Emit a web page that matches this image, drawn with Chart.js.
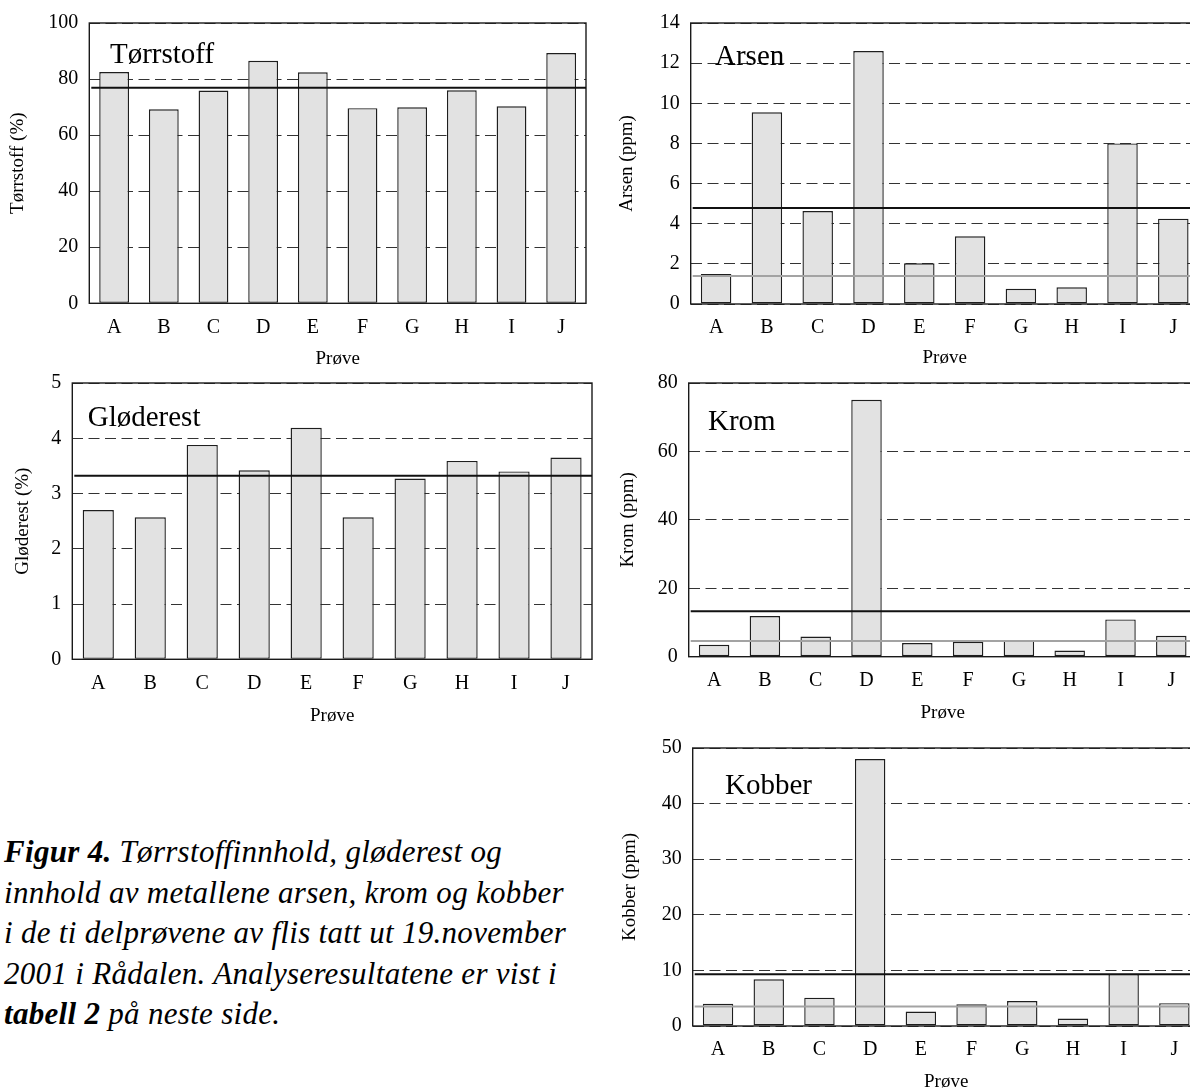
<!DOCTYPE html>
<html lang="no">
<head>
<meta charset="utf-8">
<title>Figur 4</title>
<script src="https://cdn.jsdelivr.net/npm/chart.js@4.4.0/dist/chart.umd.min.js"></script>
<style>
    html, body {
        margin: 0;
        padding: 0;
        background: #fff;
        width: 1190px;
        height: 1090px;
        overflow: hidden;
        position: relative;
    }
    .panel { position: absolute; }
    .caption {
        position: absolute;
        left: 4px;
        top: 832px;
        font-family: 'Liberation Serif', 'Times New Roman', serif;
        font-style: italic;
        font-size: 31px;
        line-height: 40.5px;
        letter-spacing: 0.3px;
        white-space: nowrap;
        color: #000;
    }
</style>
</head>
<body>

<div class="panel" style="left:0;top:0;width:600px;height:375px"><canvas id="torrstoffChart"></canvas></div>
<div class="panel" style="left:600px;top:0;width:610px;height:375px"><canvas id="arsenChart"></canvas></div>
<div class="panel" style="left:0;top:360px;width:600px;height:375px"><canvas id="glodeChart"></canvas></div>
<div class="panel" style="left:600px;top:360px;width:610px;height:375px"><canvas id="kromChart"></canvas></div>
<div class="panel" style="left:600px;top:725px;width:610px;height:375px"><canvas id="kobberChart"></canvas></div>

<div class="caption"><b>Figur 4.</b> Tørrstoffinnhold, gløderest og<br>innhold av metallene arsen, krom og kobber<br>i de ti delprøvene av flis tatt ut 19.november<br>2001 i Rådalen. Analyseresultatene er vist i<br><b>tabell 2</b> på neste side.</div>

<script>
// delprøver
const prover = ['A', 'B', 'C', 'D', 'E', 'F', 'G', 'H', 'I', 'J'];

// måleverdier lest av figuren
const torrstoff = [82.5, 69.2, 75.9, 86.5, 82.4, 69.6, 69.9, 76.0, 70.3, 89.3];
const glodrest = [2.70, 2.57, 3.88, 3.42, 4.19, 2.57, 3.27, 3.59, 3.40, 3.65];
const arsen = [1.50, 9.55, 4.63, 12.6, 2.03, 3.37, 0.76, 0.83, 8.0, 4.25];
const krom = [3.5, 11.9, 5.9, 75.1, 4.0, 4.35, 4.9, 1.8, 10.9, 6.1];
const kobber = [4.0, 8.4, 5.1, 48.0, 2.6, 3.9, 4.5, 1.35, 9.4, 4.1];

// horisontale linjer (snitt, bakgrunn)
const torrstoffLinjer = [76.9];
const glodrestLinjer = [3.32];
const arsenLinjer = [4.78, 1.39];
const kromLinjer = [13.3, 4.6];
const kobberLinjer = [9.3, 3.5];

// y-akse ticks
const torrstoffTicks = [0, 20, 40, 60, 80, 100];
const glodrestTicks = [0, 1, 2, 3, 4, 5];
const arsenTicks = [0, 2, 4, 6, 8, 10, 12, 14];
const kromTicks = [0, 20, 40, 60, 80];
const kobberTicks = [0, 10, 20, 30, 40, 50];

const serif = "'Liberation Serif', 'Times New Roman', serif";
const linjeFarger = ['#111', '#a3a3a3'];

Chart.defaults.font.family = serif;
Chart.defaults.color = '#000';

// ramme, referanselinjer og navn inne i plottet
const figurPlugin = {
    id: 'figur',
    afterDatasetsDraw(chart, args, opts) {
        const ctx = chart.ctx;
        const area = chart.chartArea;
        const y = chart.scales.y;

        ctx.save();
        ctx.strokeStyle = '#1a1a1a';
        ctx.lineWidth = 1.4;
        ctx.strokeRect(area.left, area.top, area.right - area.left, area.bottom - area.top);

        opts.linjer.forEach((v, i) => {
            const py = y.getPixelForValue(v);
            ctx.beginPath();
            ctx.strokeStyle = linjeFarger[i];
            ctx.lineWidth = 2;
            ctx.moveTo(area.left + 2, py);
            ctx.lineTo(area.right, py);
            ctx.stroke();
        });

        ctx.fillStyle = '#000';
        ctx.font = '29px ' + serif;
        ctx.textAlign = 'left';
        ctx.textBaseline = 'alphabetic';
        ctx.fillText(opts.navn, area.left + opts.navnX, area.top + opts.navnY);
        ctx.restore();
    }
};

function lagChart(id, cfg) {
    const g = cfg.geo;
    const ctx = document.getElementById(id).getContext('2d');
    return new Chart(ctx, {
        type: 'bar',
        data: {
            labels: prover,
            datasets: [{
                data: cfg.verdier,
                backgroundColor: '#e2e2e2',
                borderColor: '#1e1e1e',
                borderWidth: 1.4,
                borderSkipped: false,
                barPercentage: 0.6,
                categoryPercentage: 1.0
            }]
        },
        options: {
            responsive: true,
            maintainAspectRatio: false,
            animation: false,
            layout: {
                padding: { top: g.top, right: g.w - g.right, bottom: 0, left: 0 }
            },
            plugins: {
                legend: { display: false },
                tooltip: { enabled: false },
                figur: {
                    linjer: cfg.linjer,
                    navn: cfg.navn,
                    navnX: cfg.navnPos[0],
                    navnY: cfg.navnPos[1]
                }
            },
            scales: {
                x: {
                    grid: { display: false, drawTicks: false },
                    border: { display: false },
                    ticks: { padding: 12, font: { size: 20 } },
                    title: {
                        display: true,
                        text: 'Prøve',
                        font: { size: 19 },
                        padding: { top: 0, bottom: g.xTitle }
                    },
                    afterFit: s => { s.height = g.h - g.bottom; }
                },
                y: {
                    min: cfg.ticks[0],
                    max: cfg.ticks[cfg.ticks.length - 1],
                    grid: { color: '#333', lineWidth: 1, drawTicks: false },
                    border: { display: false, dash: [11, 5.5] },
                    ticks: {
                        stepSize: cfg.ticks[1] - cfg.ticks[0],
                        padding: 11,
                        font: { size: 20 }
                    },
                    title: {
                        display: true,
                        text: cfg.yTittel,
                        font: { size: 19 },
                        padding: { top: g.yTitle, bottom: 0 }
                    },
                    afterFit: s => { s.width = g.left; }
                }
            }
        },
        plugins: [figurPlugin]
    });
}

document.addEventListener('DOMContentLoaded', () => {
    lagChart('torrstoffChart', {
        verdier: torrstoff, linjer: torrstoffLinjer, ticks: torrstoffTicks,
        navn: 'Tørrstoff', navnPos: [20.7, 39.7], yTittel: 'Tørrstoff (%)',
        geo: { w: 600, h: 375, left: 89.3, right: 586, top: 22, bottom: 303.3, xTitle: 4.1, yTitle: 7.1 }
    });
    lagChart('arsenChart', {
        verdier: arsen, linjer: arsenLinjer, ticks: arsenTicks,
        navn: 'Arsen', navnPos: [24.3, 42], yTittel: 'Arsen (ppm)',
        geo: { w: 610, h: 375, left: 90.7, right: 598.7, top: 22, bottom: 304, xTitle: 5.1, yTitle: 16.1 }
    });
    lagChart('glodeChart', {
        verdier: glodrest, linjer: glodrestLinjer, ticks: glodrestTicks,
        navn: 'Gløderest', navnPos: [15.4, 43.4], yTittel: 'Gløderest (%)',
        geo: { w: 600, h: 375, left: 72.3, right: 592, top: 17.3, bottom: 299.3, xTitle: 7.6, yTitle: 12.1 }
    });
    lagChart('kromChart', {
        verdier: krom, linjer: kromLinjer, ticks: kromTicks,
        navn: 'Krom', navnPos: [19.3, 47.4], yTittel: 'Krom (ppm)',
        geo: { w: 610, h: 375, left: 88.7, right: 596.7, top: 14.3, bottom: 296.7, xTitle: 10.8, yTitle: 17.1 }
    });
    lagChart('kobberChart', {
        verdier: kobber, linjer: kobberLinjer, ticks: kobberTicks,
        navn: 'Kobber', navnPos: [32.3, 45.7], yTittel: 'Kobber (ppm)',
        geo: { w: 610, h: 375, left: 92.7, right: 599.7, top: 18.3, bottom: 301, xTitle: 6.6, yTitle: 19.1 }
    });
});
</script>
</body>
</html>
